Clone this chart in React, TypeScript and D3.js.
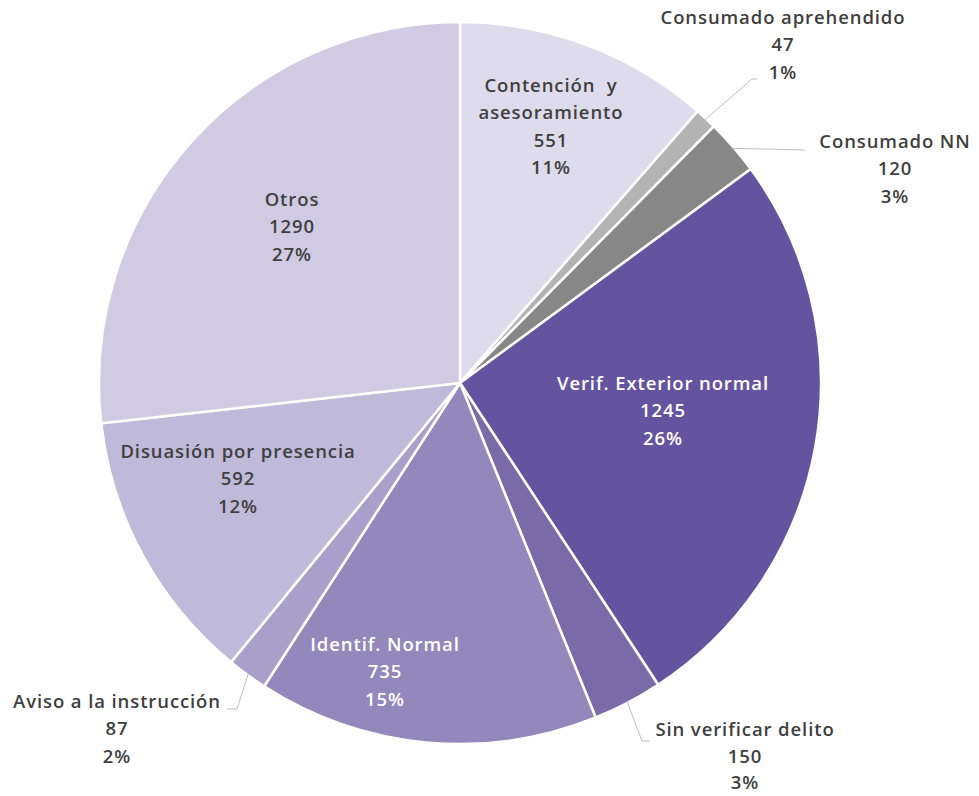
import React from "react";
import * as d3 from "d3";

const categories = [
  "Contención y asesoramiento",
  "Consumado aprehendido",
  "Consumado NN",
  "Verif. Exterior normal",
  "Sin verificar delito",
  "Identif. Normal",
  "Aviso a la instrucción",
  "Disuasión por presencia",
  "Otros",
];
const values = [551, 47, 120, 1245, 150, 735, 87, 592, 1290];
const percentLabels = ["11%", "1%", "3%", "26%", "3%", "15%", "2%", "12%", "27%"];
const labelLines = [
  ["Contención  y", "asesoramiento"],
  ["Consumado aprehendido"],
  ["Consumado NN"],
  ["Verif. Exterior normal"],
  ["Sin verificar delito"],
  ["Identif. Normal"],
  ["Aviso a la instrucción"],
  ["Disuasión por presencia"],
  ["Otros"],
];
const colors = [
  "#dedbec",
  "#b3b3b3",
  "#878787",
  "#6454a0",
  "#7a6aa8",
  "#9288bb",
  "#a89fcb",
  "#bfb9da",
  "#d0cbe3",
];
const whiteText = [false, false, false, true, false, true, false, false, false];

// layout: label anchors (center x, first line baseline y) and leader lines
const W = 979, H = 796;
const cx = 460, cy = 383, R = 361;
const labelAnchor: [number, number][] = [
  [551, 92],
  [783, 24],
  [895, 148],
  [663, 390],
  [745, 736],
  [385, 651],
  [117, 708],
  [238, 458],
  [292, 206],
];
const leaderPts: Record<number, [number, number][]> = {
  1: [[752, 79], [757, 79]],
  2: [[805, 150]],
  4: [[642, 741], [650, 741]],
  6: [[237, 709], [227, 709]],
};

export default function App() {
  const pie = d3.pie<number>().sort(null).value((d) => d);
  const arcs = pie(values);
  const arc = d3.arc<d3.PieArcDatum<number>>().innerRadius(0).outerRadius(R);
  const lh = 27.3;
  return (
    <svg width={W} height={H} style={{ position: "absolute", left: 0, top: 0 }}
      fontFamily="'Open Sans', sans-serif">
      <g transform={`translate(${cx},${cy})`}>
        {arcs.map((a, i) => (
          <path key={i} d={arc(a) || ""} fill={colors[i]} stroke="#fff" strokeWidth={2.5} />
        ))}
      </g>
      {arcs.map((a, i) => {
        if (!leaderPts[i]) return null;
        const mid = (a.startAngle + a.endAngle) / 2;
        const sx = cx + Math.sin(mid) * (R - 2);
        const sy = cy - Math.cos(mid) * (R - 2);
        const pts = [[sx, sy], ...leaderPts[i]];
        return (
          <path key={"l" + i} d={d3.line()(pts as [number, number][]) || ""}
            fill="none" stroke="#bfbfbf" strokeWidth={1} />
        );
      })}
      {arcs.map((a, i) => {
        const [x, y] = labelAnchor[i];
        const lines = [...labelLines[i], String(values[i]), percentLabels[i]];
        const step = i === 4 ? 26.5 : lh;
        return (
          <text key={"t" + i} x={x} y={y} textAnchor="middle" fontSize={18.5}
            fontWeight={600} letterSpacing={0.9} fill={whiteText[i] ? "#ffffff" : "#3f3f3f"}>
            {lines.map((s, j) => (
              <tspan key={j} x={x} y={y + j * step} xmlSpace="preserve">{s}</tspan>
            ))}
          </text>
        );
      })}
    </svg>
  );
}
